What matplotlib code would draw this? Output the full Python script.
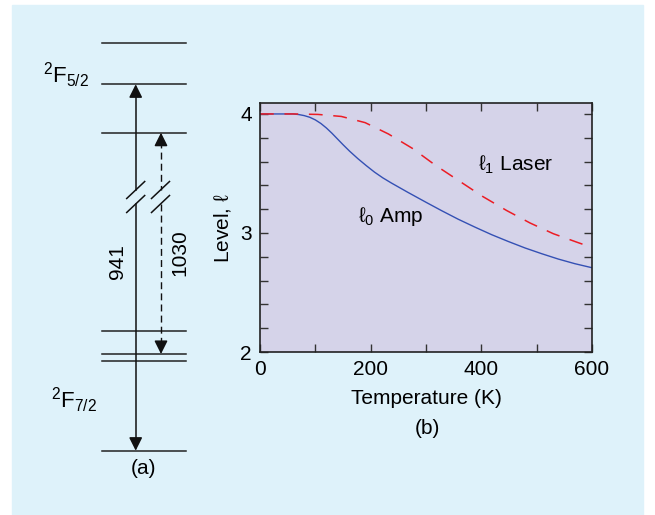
import matplotlib
matplotlib.use("Agg")
import matplotlib.pyplot as plt
from matplotlib.patches import Rectangle
from matplotlib.ticker import MultipleLocator

plt.rcParams['font.family'] = ['Liberation Sans', 'DejaVu Sans']
plt.rcParams['mathtext.fontset'] = 'custom'
plt.rcParams['mathtext.rm'] = 'Liberation Sans'
plt.rcParams['mathtext.it'] = 'Liberation Sans:italic'
plt.rcParams['mathtext.default'] = 'regular'

# level diagram (a): positions of the levels, top = 0
levels = [42.7, 84.3, 132.7, 331, 354, 360.7, 450.7]
pump = (450.7, 84.3)      # 941 nm transition
laser = (132.7, 354)      # 1030 nm transition

# (b) level vs temperature
T_amp = [0, 50, 60, 70, 80, 90, 100, 110, 120, 130, 140, 150, 162, 177, 192,
         207, 222, 237, 267, 300, 328, 358, 389, 419, 449, 479, 509, 539, 569, 600]
amp = [4.0, 4.0, 4.0, 3.995, 3.986, 3.972, 3.95, 3.92, 3.882, 3.838, 3.79,
       3.742, 3.687, 3.624, 3.566, 3.511, 3.463, 3.421, 3.342, 3.258, 3.188,
       3.116, 3.048, 2.985, 2.928, 2.874, 2.826, 2.781, 2.742, 2.708]
T_las = [0, 60, 105, 147, 190, 232, 275, 317, 360, 402, 446, 488, 530, 573, 584]
las = [4.0, 4.0, 3.996, 3.979, 3.927, 3.832, 3.712, 3.569, 3.437, 3.308,
       3.188, 3.084, 2.994, 2.922, 2.904]

bg = '#def2fa'
fig = plt.figure(figsize=(6.55, 5.15), dpi=100)
fig.patch.set_facecolor('white')

# full-figure layer for background and diagram
axd = fig.add_axes([0, 0, 1, 1])
axd.set_xlim(0, 655)
axd.set_ylim(515, 0)
axd.axis('off')
axd.add_patch(Rectangle((12, 5), 631, 515, color=bg, zorder=0))

for y in levels:
    axd.plot([102, 186], [y, y], color='#222222', lw=1.1)

x1, x2 = 135.7, 161
gap = (190, 204)
ak = dict(arrowstyle='-|>,head_length=0.8,head_width=0.4', color='#111111',
          lw=1.1, shrinkA=0, shrinkB=0)

# solid pump arrow, two heads, broken
axd.plot([x1, x1], [pump[1] + 8, gap[0]], color='#111111', lw=1.1)
axd.plot([x1, x1], [gap[1], pump[0] - 8], color='#111111', lw=1.1)
axd.annotate('', xy=(x1, pump[1]), xytext=(x1, pump[1] + 12), arrowprops=ak)
axd.annotate('', xy=(x1, pump[0]), xytext=(x1, pump[0] - 12), arrowprops=ak)

# dashed laser arrow
axd.plot([x2, x2], [laser[0] + 8, gap[0]], color='#111111', lw=1.0, dashes=(5, 3))
axd.plot([x2, x2], [gap[1], laser[1] - 8], color='#111111', lw=1.0, dashes=(5, 3))
axd.annotate('', xy=(x2, laser[0]), xytext=(x2, laser[0] + 12), arrowprops=ak)
axd.annotate('', xy=(x2, laser[1]), xytext=(x2, laser[1] - 12), arrowprops=ak)

# break marks
for xc in (x1, x2 - 0.5):
    for yc in gap:
        axd.plot([xc - 9, xc + 9], [yc + 8.5, yc - 8.5], color='#111111', lw=1.1)

axd.text(89, 75, r'$^2$F$_{5/2}$', fontsize=16, ha='right', va='center')
axd.text(97, 400, r'$^2$F$_{7/2}$', fontsize=16, ha='right', va='center')
axd.text(118, 262, '941', fontsize=15, rotation=90, ha='center', va='center')
axd.text(180, 253, '1030', fontsize=15, rotation=90, ha='center', va='center')
axd.text(144, 468, '(a)', fontsize=15, ha='center', va='center')

# panel (b)
ax = fig.add_axes([260 / 655, 1 - 352 / 515, 332 / 655, 249 / 515])
ax.set_facecolor('#d5d3e9')
ax.plot(T_amp, amp, color='#3450b4', lw=1.0)
ax.plot(T_las, las, color='#ec1c24', lw=1.1, dashes=(9, 7))
ax.set_xlim(0, 600)
ax.set_ylim(2, 4.092)
ax.xaxis.set_major_locator(MultipleLocator(200))
ax.xaxis.set_minor_locator(MultipleLocator(100))
ax.yaxis.set_major_locator(MultipleLocator(1))
ax.yaxis.set_minor_locator(MultipleLocator(0.2))
ax.tick_params(which='both', direction='in', top=True, right=True,
               length=5.5, width=1.0, color='#333333', labelsize=15, pad=6)
for s in ax.spines.values():
    s.set_linewidth(1.2)
    s.set_color('#222222')
ax.set_xlabel('Temperature (K)', fontsize=15, labelpad=7)
ax.set_ylabel(r'Level, $\ell$', fontsize=15, labelpad=5)
ax.text(394, 3.521, r'$\ell_1$ Laser', fontsize=15, ha='left', va='baseline')
ax.text(177, 3.095, r'$\ell_0$ Amp', fontsize=15, ha='left', va='baseline')
fig.text(427 / 655, 1 - 428 / 515, '(b)', fontsize=15, ha='center', va='center')

fig.savefig('out.png', dpi=100, facecolor=fig.get_facecolor())
